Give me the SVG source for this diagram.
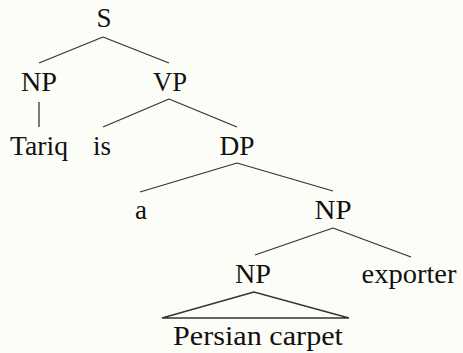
<svg xmlns="http://www.w3.org/2000/svg" width="463" height="353" viewBox="0 0 463 353">
<style>
text{font-family:"Liberation Serif","Times New Roman",serif;font-size:27px;fill:#111;text-anchor:middle}
.e{stroke:#333;stroke-width:1.3;fill:none}
</style>
<rect width="463" height="353" fill="#fdfdf7"/>
<g id="connectors">
<path class="e" d="M103,37 L39,63 M103,37 L169,63"/>
<path class="e" d="M39,102 L39,127"/>
<path class="e" d="M169,99 L103,127 M169,99 L237,127"/>
<path class="e" d="M237,163 L140,192 M237,163 L333,191"/>
<path class="e" d="M333,228 L255,255 M333,228 L411,257"/>
<path class="e" d="M254,292 L162,318 L349,318 Z"/>
</g>
<g id="n-S"><text x="104" y="27">S</text></g>
<g id="n-NP1"><text x="39" y="91" textLength="36" lengthAdjust="spacingAndGlyphs">NP</text></g>
<g id="n-VP"><text x="170" y="91" textLength="34" lengthAdjust="spacingAndGlyphs">VP</text></g>
<g id="n-Tariq"><text x="39" y="155" textLength="58" lengthAdjust="spacingAndGlyphs">Tariq</text></g>
<g id="n-is"><text x="102" y="155">is</text></g>
<g id="n-DP"><text x="237" y="155" textLength="35" lengthAdjust="spacingAndGlyphs">DP</text></g>
<g id="n-a"><text x="141" y="219">a</text></g>
<g id="n-NP2"><text x="333" y="219" textLength="37" lengthAdjust="spacingAndGlyphs">NP</text></g>
<g id="n-NP3"><text x="253" y="283" textLength="36" lengthAdjust="spacingAndGlyphs">NP</text></g>
<g id="n-exporter"><text x="409" y="283" textLength="95" lengthAdjust="spacingAndGlyphs">exporter</text></g>
<g id="n-Persian"><text x="258" y="345" textLength="170" lengthAdjust="spacingAndGlyphs">Persian carpet</text></g>
</svg>
